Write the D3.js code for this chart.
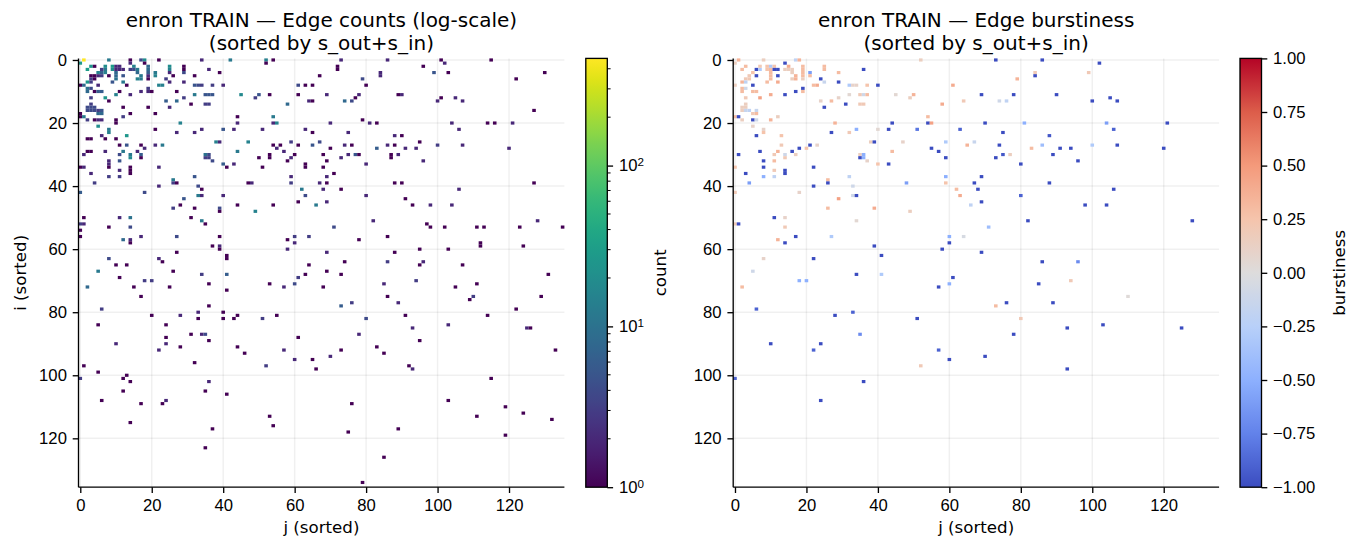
<!DOCTYPE html>
<html>
<head>
<meta charset="utf-8">
<script src="https://cdn.jsdelivr.net/npm/d3@7"></script>
<style>
  html, body { margin: 0; padding: 0; background: #fff; }
  svg { display: block; font-family: "DejaVu Sans", sans-serif; }
  .tick text { font-size: 16.67px; fill: #000; }
  .tick line { stroke: #000; stroke-width: 1.33px; }
  .domain { stroke: #000; stroke-width: 1.33px; }
  .grid-line { stroke: #000; stroke-opacity: 0.06; stroke-width: 1.5px; }
  .label { font-size: 16.67px; fill: #000; }
  .title { font-size: 20px; fill: #000; }
</style>
</head>
<body>
<div id="chart"></div>
<script>
// [i, j, count]
var countCells = [
  [0,1,464],[1,0,28],[0,8,12],[0,14,1],[1,14,2],[0,17,4],[0,18,20],[1,18,1],[0,22,1],[0,34,2],[0,42,12],
  [0,52,14],[1,52,1],[0,54,1],[0,73,2],[0,86,2],[0,101,1],[1,102,2],[0,115,1],
  [2,3,25],[2,4,1],[3,2,30],[2,7,20],[3,7,12],[2,9,30],[2,10,2],[2,11,2],[3,9,20],[3,10,2],[3,11,2],[3,12,2],
  [3,14,3],[2,15,15],[3,15,4],[3,16,12],[4,16,8],[2,19,8],[3,19,8],[4,19,6],[5,19,2],[6,19,1],
  [2,25,20],[3,25,15],[4,25,2],[2,29,1],[3,29,1],[4,29,4],[3,36,2],[4,39,1],[3,6,3],[2,96,1],
  [4,5,15],[4,6,6],[4,7,14],[5,3,1],[5,4,1],[5,5,2],[5,6,3],[5,8,1],[4,10,8],[5,10,8],[6,10,10],[5,12,5],
  [5,17,12],[6,17,12],[6,16,15],[4,21,12],[5,21,15],[5,26,1],[5,32,1],[6,24,3],[7,25,2],[7,29,2],
  [6,3,3],[6,4,1],[7,2,25],[7,3,3],[7,9,5],[7,12,12],[8,0,1],[8,1,8],[8,5,2],[8,13,1],
  [8,22,15],[8,23,14],[8,32,5],[8,33,4],[8,34,3],[8,37,3],[8,40,2],[9,2,10],[9,3,4],[9,19,3],
  [10,2,8],[10,4,1],[10,5,6],[10,6,6],[10,11,1],[10,17,2],[10,19,2],[10,20,1],[10,27,1],
  [11,10,15],[11,14,2],[11,32,12],[11,35,5],[11,36,5],[11,37,5],[12,3,3],[12,7,25],[12,29,3],
  [13,8,1],[13,24,6],[13,27,8],[14,3,3],[14,31,1],[14,35,3],[14,36,3],
  [15,2,4],[15,3,4],[15,4,4],[15,12,1],[15,19,1],[15,25,2],[16,2,4],[16,3,4],[16,4,4],[16,5,3],[16,6,5],
  [17,0,1],[17,5,8],[17,6,8],[17,14,1],[17,21,1],[18,0,1],[18,1,12],[18,12,3],
  [19,2,3],[19,4,1],[19,5,2],[19,6,2],[19,10,1],[20,10,1],[20,28,15],[21,5,20],
  [22,8,12],[23,8,15],[22,21,1],[23,27,2],[23,32,2],[22,34,2],[22,40,5],[24,6,2],[24,13,25],
  [25,2,1],[25,3,1],[25,7,1],[25,10,1],[26,38,15],[26,39,2],
  [4,99,5],[4,103,1],[4,130,1],[2,72,1],[3,72,1],[5,67,1],[4,84,2],[5,84,2],[6,79,4],[8,61,4],[8,63,1],[8,65,1],[8,80,1],
  [11,45,18],[11,50,5],[11,53,1],[11,61,1],[11,69,2],[11,78,2],[11,89,1],[11,90,2],[12,49,3],[12,77,1],
  [14,58,8],[13,64,2],[13,65,1],[13,74,8],[13,76,4],[18,44,1],[18,54,12],[20,44,2],[20,54,2],[20,55,15],
  [20,70,2],[19,79,1],[20,81,2],[20,83,1],[22,43,2],[22,51,2],[22,63,2],[23,65,1],[23,75,2],[24,88,2],[24,90,1],
  [26,47,15],[27,54,1],[27,56,1],[27,61,1],[26,59,3],[26,67,4],[27,65,5],[27,74,2],[27,76,1],[27,86,2],[27,88,1],
  [28,55,2],[28,70,1],[28,83,6],[29,57,2],[29,44,12],[31,50,1],[30,53,1],[31,53,1],[30,60,1],[31,59,2],
  [30,68,1],[31,73,2],[30,75,2],[30,77,5],[30,78,1],[30,87,1],[31,87,1],[30,89,2],[32,58,1],[32,69,1],
  [33,63,1],[34,63,1],[33,43,2],[34,51,1],[34,68,1],[33,80,2],
  [6,122,1],[12,101,1],[13,100,2],[12,105,2],[13,107,2],[16,127,1],[20,104,2],[20,114,1],[20,116,1],[20,121,2],
  [22,106,2],[26,95,1],[27,100,3],[27,107,2],[28,91,2],[28,94,2],[28,120,2],[32,96,2],
  [39,88,1],[39,90,1],[39,127,1],[41,106,2],[44,91,1],[46,93,1],[46,98,2],[46,104,2],[52,97,1],[53,98,1],[53,102,1],
  [53,111,1],[53,113,1],[53,123,1],[53,135,1],[51,128,2],[58,112,1],[59,112,1],[59,124,1],[61,88,1],[60,95,1],[60,103,1],
  [64,96,2],[65,95,1],[65,107,1],[37,59,2],[37,69,2],[36,71,1],[39,47,1],[39,48,2],[39,59,3],[39,67,2],[39,69,1],
  [41,62,12],[41,68,2],[41,73,1],[43,63,4],[43,80,2],[45,61,1],[45,69,2],[46,44,1],[46,54,1],[46,66,12],[48,49,15],
  [51,82,2],[53,71,4],[56,60,3],[56,64,3],[57,58,1],[57,78,1],[56,86,1],[58,60,2],[60,58,2],[61,69,2],
  [65,64,1],[64,74,1],[64,86,3],[68,63,1],
  [27,11,1],[27,13,5],[27,17,1],[27,21,2],[27,23,12],[28,18,2],[30,1,2],[29,2,1],[29,3,1],[29,7,2],[30,11,4],[29,12,12],
  [30,14,12],[31,14,18],[29,16,2],[30,17,6],[31,17,1],[30,35,10],[30,36,4],[31,35,3],[31,36,3],[32,11,5],[32,37,4],
  [33,40,6],[34,41,1],[32,8,2],[33,8,2],[34,8,1],[34,0,1],[34,1,2],[35,11,2],[34,14,1],[35,14,1],[36,14,1],[34,22,2],
  [36,3,2],[37,8,3],[37,11,3],[37,32,5],[39,4,3],[38,26,12],[39,26,3],[39,27,1],[40,22,2],[40,33,4],[41,34,1],
  [42,0,6],[42,18,4],[43,40,2],[43,33,12],[43,34,2],[44,29,5],[46,28,1],[47,26,3],[47,32,1],[47,39,4],[48,39,1],
  [50,1,1],[50,11,2],[50,14,10],[50,31,1],[51,34,12],[52,0,3],[52,1,2],[52,35,1],[54,0,1],[53,8,1],[53,14,4],
  [56,0,1],[56,17,2],[57,12,8],[57,14,2],[58,14,1],[56,27,4],[56,39,1],[59,37,1],[59,39,2],[60,39,1],[61,27,1],
  [62,41,1],[63,41,1],
  [63,8,4],[65,10,1],[65,13,1],[67,5,12],[69,11,1],[72,2,8],[72,15,1],[75,17,1],[79,6,3],[84,5,1],[90,10,2],[97,1,1],
  [99,5,1],[101,0,3],[101,12,1],[100,13,1],[102,14,1],[105,12,1],[108,6,1],[115,14,1],[109,17,1],[70,18,3],[70,20,3],
  [81,20,1],[63,22,2],[64,23,1],[67,26,1],[72,25,1],[84,24,1],[88,24,1],[90,24,2],[92,22,2],[109,23,1],[108,24,2],
  [81,28,2],[91,28,1],[87,31,1],[96,32,1],[80,33,2],[82,33,1],[87,34,2],[87,35,4],[68,34,3],[71,36,1],[78,36,1],
  [89,36,1],[102,36,2],[105,35,1],[123,35,1],[117,37,1],[80,40,1],[82,40,1],[68,41,6],[73,41,1],[106,41,1],[82,43,1],
  [81,44,1],[91,44,1],[93,46,1],[71,53,1],[82,51,3],[81,55,1],[113,53,1],[116,54,1],[72,57,2],[92,57,2],[97,52,3],
  [71,60,4],[69,61,3],[88,61,1],[95,60,2],[95,65,1],[98,66,1],
  [67,69,1],[68,73,1],[72,68,1],[78,73,6],[77,76,3],[71,85,2],[70,94,3],[75,86,1],[77,89,2],[81,91,1],[82,80,4],
  [85,93,2],[87,78,2],[89,95,1],[91,83,1],[93,85,1],[92,73,1],[94,70,2],[97,92,1],[98,93,2],[72,105,1],[71,111,1],
  [75,110,3],[76,109,1],[84,103,2],[81,114,1],[79,122,1],[75,129,1],[68,131,1],[85,125,2],[85,126,1],[92,133,1],
  [101,115,1],[108,103,1],[110,119,1],[112,124,1],[113,111,1],[114,132,1],[119,119,1],[109,76,1],[118,75,1],[117,89,1],
  [126,85,1],[134,79,1]
];

// [i, j, burstiness]
var burstCells = [
  [0,1,.35],[1,0,.15],[0,8,.15],[1,14,-1],[0,17,-.2],[0,18,.35],[2,15,.4],[2,3,.3],[3,2,.3],[3,6,-1],[3,7,-.3],[2,7,.2],
  [2,9,.25],[2,10,-.3],[2,11,.25],[3,9,.25],[3,10,.3],[3,11,-1],[3,12,-1],[3,14,.15],[3,15,.15],[3,16,.15],[4,16,.15],
  [2,19,.3],[3,19,.3],[4,19,.3],[5,19,.3],[6,19,.15],[2,25,.3],[3,25,.3],[4,29,.3],[3,36,-1],[4,5,.25],[5,6,-1],[5,4,.2],
  [4,10,.3],[5,10,.3],[6,10,.3],[5,12,-1],[5,17,.35],[6,17,.35],[6,16,.15],[4,21,-.6],[5,21,.3],[6,24,-1],[7,25,-.15],[7,29,-1],
  [6,3,.2],[6,4,.2],[7,2,.35],[7,3,-.2],[7,9,.3],[7,12,.4],[8,0,.15],[8,5,-1],[8,22,.3],[8,23,.4],[8,32,-.3],[8,33,.1],[8,34,.1],
  [8,37,.25],[8,40,-1],[9,2,.3],[9,3,-.1],[9,19,-1],[10,19,.3],[10,2,.3],[10,5,.3],[10,6,.3],[11,10,.4],[11,14,-1],[10,17,-1],
  [11,32,.05],[11,35,.2],[11,36,-.1],[11,37,.3],[11,45,.05],[12,3,.2],[12,7,.45],[12,29,.1],[13,24,.1],[13,27,.3],[14,3,.15],
  [14,31,-1],[14,35,.2],[14,36,.2],[15,2,.15],[15,3,.15],[15,25,-1],[16,2,.15],[16,3,-.15],[16,4,-.2],[16,6,-.15],[17,5,.2],[17,6,.3],
  [18,0,.3],[18,1,-1],[18,12,.15],[19,2,.15],[19,5,-1],[19,6,-.1],[19,10,.35],[20,28,.35],[20,44,-1],[21,5,.1],[22,8,.1],[23,8,.25],
  [23,27,-1],[23,32,.2],[22,34,-.5],[22,40,.05],[22,43,-1],[24,6,-1],[24,13,.25],[26,38,.15],[26,39,-1],[27,13,.2],[27,21,-1],[27,23,.1],
  [28,20,.25],[28,18,-1],[29,7,-1],[29,12,.35],[29,16,-1],[30,1,-1],[30,11,.2],[30,14,-.1],[31,14,.2],[30,17,.15],[32,8,-1],[32,11,.3],
  [34,8,-1],[35,11,.2],[34,0,.25],[36,3,-1],[35,14,-1],[36,14,-1],[34,22,-1],[37,8,-.5],[37,11,-.2],[39,4,-.6],[30,35,.15],[30,36,-.5],
  [31,35,-1],[31,36,-.5],[32,37,.1],[33,40,.25],[33,43,-1],[29,44,.3],[28,55,-1],[29,57,-1],[31,59,-1],[40,22,-1],[38,26,.3],[39,26,-1],
  [37,32,-.2],[40,33,-.1],[39,48,-.6],[37,59,-.5],[39,59,.25],[41,62,.3],[43,63,.4],[42,0,.2],[42,18,.1],[44,29,.45],[43,33,-.1],[43,34,-1],
  [47,26,.3],[47,39,.4],[48,49,.15],[50,11,-1],[50,14,.1],[51,34,.05],[52,0,.2],[52,1,-1],[53,14,.2],[56,17,-1],[56,27,-.3],[56,60,-.5],
  [56,64,-.05],[57,12,.35],[58,14,-1],[59,39,-1],[58,60,-1],[60,58,-1],[63,22,-1],[63,8,.1],[62,41,-1],[67,5,-.1],[68,34,-1],[68,41,-.3],
  [70,18,-.5],[70,20,-.5],[69,61,-1],[71,60,-.5],
  [0,52,.15],[0,73,-1],[0,86,-1],[1,102,-1],[4,84,.2],[5,84,-1],[4,99,.2],[6,79,.35],[8,61,.4],[11,50,.35],[12,49,.15],[11,69,-1],[11,78,-1],
  [11,90,-1],[14,58,.4],[13,64,.2],[13,74,-.1],[13,76,-.2],[12,105,-1],[13,100,-1],[13,107,-1],[18,54,.3],[20,54,-1],[20,55,.45],[20,70,-1],
  [20,81,-.5],[20,104,-.6],[20,121,-1],[22,51,-.8],[22,63,-.9],[22,106,-.9],[23,75,-1],[24,88,-.95],[26,47,.1],[26,59,-.3],[26,67,-.15],
  [27,65,.35],[27,74,-1],[27,86,-.4],[28,83,.3],[27,100,-.3],[27,107,-1],[28,120,-1],[28,91,-1],[28,94,-1],[30,89,-1],[31,73,-1],[30,75,-.95],
  [30,77,.15],[32,96,-1],[33,80,-1],[37,69,-1],[39,67,-1],[39,88,-1],[41,68,-1],[41,106,-1],[43,80,-.9],[46,66,-.2],[45,69,-1],[46,98,-1],
  [46,104,-1],[51,82,-1],[51,128,-1],[53,71,-.4],[61,69,-1],[64,86,-1],[64,96,-.7],[72,57,-1],[71,85,-1],[70,94,.2],
  [72,2,.3],[75,110,.02],[78,73,.3],[77,76,-1],[77,89,-1],[79,6,-.9],[81,28,-1],[80,33,-.9],[82,51,-1],[82,80,.2],[85,93,-1],[84,103,-1],
  [85,125,-1],[87,35,-.7],[87,78,-1],[90,10,-1],[90,24,-1],[92,22,-.9],[92,57,-.9],[95,60,-1],[94,70,-1],[97,52,.2],[98,93,-1],[101,0,-.9],
  [102,36,-1],[108,24,-1]
];

var axisTicks = [0, 20, 40, 60, 80, 100, 120];
var countTicks = [1, 10, 100];
var countMinorTicks = [2, 3, 4, 5, 6, 7, 8, 9, 20, 30, 40, 50, 60, 70, 80, 90, 200, 300, 400];
var burstTicks = [-1, -0.75, -0.5, -0.25, 0, 0.25, 0.5, 0.75, 1];
var coolwarmStops = ['#3b4cc0', '#6282ea', '#8db0fe', '#b8d0f9', '#dddcdc', '#f5c4ac', '#f49a7b', '#dc5d4a', '#b40426'];

var svg = d3.select("#chart")
  .append("svg")
  .attr("width", 1360)
  .attr("height", 538);

var plotTop = 58.4, plotBottom = 487.2;
var tickLen = 5.8, tickPad = 5.8;

var countColor = d3.scaleSequentialLog(d3.interpolateViridis).domain([1, 464]);
var coolwarm = d3.scaleLinear()
  .domain(d3.range(9).map(function(k) { return -1 + k * 0.25; }))
  .range(coolwarmStops);

drawPanel(78.5, 564.4, countCells, countColor, "enron TRAIN \u2014 Edge counts (log-scale)", true);
drawPanel(733.2, 1219.1, burstCells, coolwarm, "enron TRAIN \u2014 Edge burstiness", false);

function drawPanel(left, right, cells, color, title, showYLabel) {
  var x = d3.scaleLinear().domain([-0.5, 135.5]).range([left, right]);
  var y = d3.scaleLinear().domain([-0.5, 135.5]).range([plotTop, plotBottom]);
  var g = svg.append("g");

  // grid goes under the cells
  g.selectAll(".gx").data(axisTicks).enter().append("line")
    .attr("class", "grid-line")
    .attr("x1", function(d) { return x(d); }).attr("x2", function(d) { return x(d); })
    .attr("y1", plotTop).attr("y2", plotBottom);
  g.selectAll(".gy").data(axisTicks).enter().append("line")
    .attr("class", "grid-line")
    .attr("x1", left).attr("x2", right)
    .attr("y1", function(d) { return y(d); }).attr("y2", function(d) { return y(d); });

  g.selectAll(".cell").data(cells).enter().append("rect")
    .attr("x", function(d) { return x(d[1] - 0.5); })
    .attr("y", function(d) { return y(d[0] - 0.5); })
    .attr("width", x(1) - x(0))
    .attr("height", y(1) - y(0))
    .attr("fill", function(d) { return color(d[2]); });

  var xAxis = g.append("g")
    .attr("transform", "translate(0," + plotBottom + ")")
    .call(d3.axisBottom(x).tickValues(axisTicks).tickSize(tickLen).tickPadding(tickPad).tickSizeOuter(0));
  var yAxis = g.append("g")
    .attr("transform", "translate(" + left + ",0)")
    .call(d3.axisLeft(y).tickValues(axisTicks).tickSize(tickLen).tickPadding(tickPad).tickSizeOuter(0));
  xAxis.select(".domain").attr("d", "M" + left + ",0H" + right);
  yAxis.select(".domain").attr("d", "M0," + plotTop + "V" + plotBottom);

  g.append("text").attr("class", "label")
    .attr("x", (left + right) / 2).attr("y", 533)
    .attr("text-anchor", "middle").text("j (sorted)");
  if (showYLabel) {
    g.append("text").attr("class", "label")
      .attr("transform", "translate(26," + (plotTop + plotBottom) / 2 + ") rotate(-90)")
      .attr("text-anchor", "middle").text("i (sorted)");
  }

  g.append("text").attr("class", "title")
    .attr("x", (left + right) / 2).attr("y", 26.5)
    .attr("text-anchor", "middle").text(title);
  g.append("text").attr("class", "title")
    .attr("x", (left + right) / 2).attr("y", 49.5)
    .attr("text-anchor", "middle").text("(sorted by s_out+s_in)");
}

// colorbars
function colorbar(id, left, scale, color, label, labelX) {
  var grad = svg.append("defs").append("linearGradient")
    .attr("id", id)
    .attr("x1", 0).attr("x2", 0).attr("y1", 1).attr("y2", 0);
  grad.selectAll("stop").data(d3.range(0, 41)).enter().append("stop")
    .attr("offset", function(k) { return k / 40; })
    .attr("stop-color", function(k) {
      return color(scale.invert(plotBottom - k / 40 * (plotBottom - plotTop)));
    });

  var g = svg.append("g");
  g.append("rect")
    .attr("x", left).attr("y", plotTop)
    .attr("width", 21.5).attr("height", plotBottom - plotTop)
    .attr("fill", "url(#" + id + ")")
    .attr("stroke", "#000").attr("stroke-width", 1.33);
  g.append("text").attr("class", "label")
    .attr("transform", "translate(" + labelX + "," + (plotTop + plotBottom) / 2 + ") rotate(-90)")
    .attr("text-anchor", "middle").text(label);
  return g.append("g").attr("transform", "translate(" + (left + 21.5) + ",0)");
}

var countScale = d3.scaleLog().domain([1, 464]).range([plotBottom, plotTop]);
var countBar = colorbar("count-grad", 585.8, countScale, countColor, "count", 666);
countBar.call(d3.axisRight(countScale).tickValues(countTicks).tickSize(tickLen).tickPadding(tickPad)
  .tickSizeOuter(0).tickFormat(""));
countBar.select(".domain").remove();
countBar.selectAll(".tick text")
  .each(function(d) {
    var t = d3.select(this);
    t.append("tspan").text("10");
    t.append("tspan")
      .attr("dy", "-0.45em").style("font-size", "11.67px")
      .text(Math.round(Math.log10(d)));
  });
countBar.selectAll(".minor").data(countMinorTicks).enter().append("line")
  .attr("class", "minor")
  .attr("x1", 0).attr("x2", 3.3)
  .attr("y1", function(d) { return countScale(d); })
  .attr("y2", function(d) { return countScale(d); })
  .attr("stroke", "#000").attr("stroke-width", 1);

var burstScale = d3.scaleLinear().domain([-1, 1]).range([plotBottom, plotTop]);
var burstBar = colorbar("burst-grad", 1240, burstScale, coolwarm, "burstiness", 1345);
burstBar.call(d3.axisRight(burstScale).tickValues(burstTicks).tickSize(tickLen).tickPadding(tickPad)
  .tickSizeOuter(0).tickFormat(function(d) { return d3.format(".2f")(d).replace("-", "\u2212"); }));
burstBar.select(".domain").remove();
</script>
</body>
</html>
